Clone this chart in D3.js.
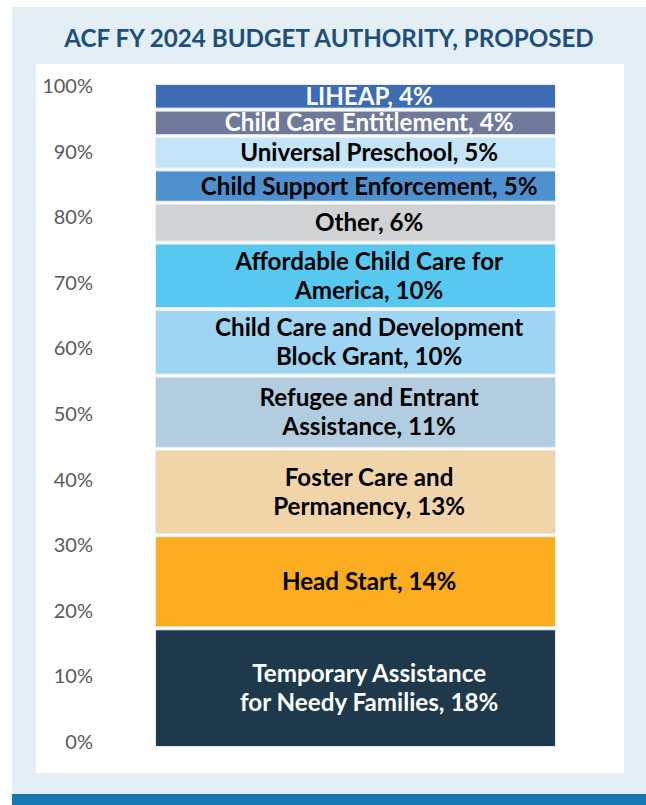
<!DOCTYPE html>
<html>
<head>
<meta charset="utf-8">
<script src="https://cdn.jsdelivr.net/npm/d3@7"></script>
<style>
  html, body { margin: 0; padding: 0; background: #ffffff; }
  svg { display: block; }
</style>
</head>
<body>
<svg id="chart" width="646" height="805"></svg>
<script>
// ---- data ----
const title = "ACF FY 2024 BUDGET AUTHORITY, PROPOSED";
const categories = [
  "Temporary Assistance for Needy Families",
  "Head Start",
  "Foster Care and Permanency",
  "Refugee and Entrant Assistance",
  "Child Care and Development Block Grant",
  "Affordable Child Care for America",
  "Other",
  "Child Support Enforcement",
  "Universal Preschool",
  "Child Care Entitlement",
  "LIHEAP"
];
const values = [18, 14, 13, 11, 10, 10, 6, 5, 5, 4, 4];
// first line of two-line labels (null = single line)
const firstLines = [
  "Temporary Assistance", null, "Foster Care and", "Refugee and Entrant",
  "Child Care and Development", "Affordable Child Care for", null, null, null, null, null
];
const tickValues = [0, 10, 20, 30, 40, 50, 60, 70, 80, 90, 100];
const colors = ["#1e394c", "#fbad1f", "#f2d4a9", "#b2cde0", "#9fd5f3", "#57c9f1",
                "#d1d2d4", "#4f91cf", "#c4e4f7", "#6f7a9b", "#3b6cb4"];
const textColors = ["#ffffff", "#000000", "#000000", "#000000", "#000000", "#000000",
                    "#000000", "#000000", "#000000", "#ffffff", "#ffffff"];

// ---- layout ----
const svg = d3.select("#chart");
const W = 646, H = 805;

svg.append("rect").attr("x", 12).attr("y", 7).attr("width", W - 12).attr("height", H - 7)
  .attr("fill", "#e3eef5");
svg.append("rect").attr("x", 12).attr("y", 794).attr("width", W - 12).attr("height", 11)
  .attr("fill", "#1778b4");
svg.append("rect").attr("x", 36).attr("y", 64).attr("width", 588).attr("height", 709)
  .attr("fill", "#ffffff");

// title
const titleEl = svg.append("text")
  .attr("x", 329).attr("y", 47)
  .attr("text-anchor", "middle")
  .attr("font-family", "Lato, 'Open Sans', sans-serif")
  .attr("font-weight", 700)
  .attr("font-size", 24)
  .attr("fill", "#1c4f7a")
  .text(title);
{
  const w = titleEl.node().getComputedTextLength();
  titleEl.attr("font-size", 24 * 530 / w);
}

const barLeft = 155, barRight = 556;
const y = d3.scaleLinear().domain([0, 100]).range([748, 83]);
const yAxisScale = d3.scaleLinear().domain([0, 100]).range([742, 86]);

// stacked data
const stackData = [];
let cum = 0;
values.forEach((v, i) => {
  stackData.push({ name: categories[i], value: v, y0: cum, y1: cum + v, i });
  cum += v;
});

const gap = 3;
const bars = svg.append("g");
bars.selectAll("rect").data(stackData).join("rect")
  .attr("x", barLeft + 0.5)
  .attr("width", barRight - barLeft - 1)
  .attr("y", d => y(d.y1) + gap / 2)
  .attr("height", d => y(d.y0) - y(d.y1) - gap)
  .attr("fill", d => colors[d.i])
  .attr("stroke", "#e6eef6")
  .attr("stroke-width", 1);

// labels
const labelFont = "Lato, 'Open Sans', sans-serif";
const lx = barLeft + (barRight - barLeft) * 0.534;
const lineH = 29;
const labels = svg.append("g");
stackData.forEach(d => {
  const full = d.name + ", " + d.value + "%";
  let lines;
  if (firstLines[d.i]) {
    const rest = d.name.slice(firstLines[d.i].length).trim();
    lines = [firstLines[d.i], rest + ", " + d.value + "%"];
  } else {
    lines = [full];
  }
  const cy = (y(d.y0) + y(d.y1)) / 2;
  const t = labels.append("text")
    .attr("text-anchor", "middle")
    .attr("font-family", labelFont)
    .attr("font-weight", 700)
    .attr("font-size", 21)
    .attr("fill", textColors[d.i])
    .attr("class", "barlabel");
  lines.forEach((ln, k) => {
    t.append("tspan")
      .attr("x", lx)
      .attr("y", cy + (k - (lines.length - 1) / 2) * lineH)
      .attr("dy", "0.35em")
      .text(ln);
  });
});
// fit label font size so the widest single-line label matches reference (~337px)
{
  const ref = labels.selectAll("text").filter((d, i, n) => n[i].textContent.startsWith("Child Support"));
  const w = ref.node().getComputedTextLength();
  const fs = 21 * 337 / w;
  labels.selectAll("text").attr("font-size", fs);
}

// axis
const axis = d3.axisLeft(yAxisScale)
  .tickValues(tickValues)
  .tickFormat(d => d + "%")
  .tickSize(0)
  .tickPadding(0);
const ag = svg.append("g").attr("transform", "translate(93,0)").call(axis);
ag.select(".domain").remove();
ag.selectAll("text")
  .attr("font-family", "Lato, 'Open Sans', sans-serif")
  .attr("font-size", 20)
  .attr("fill", "#595959");
</script>
</body>
</html>
